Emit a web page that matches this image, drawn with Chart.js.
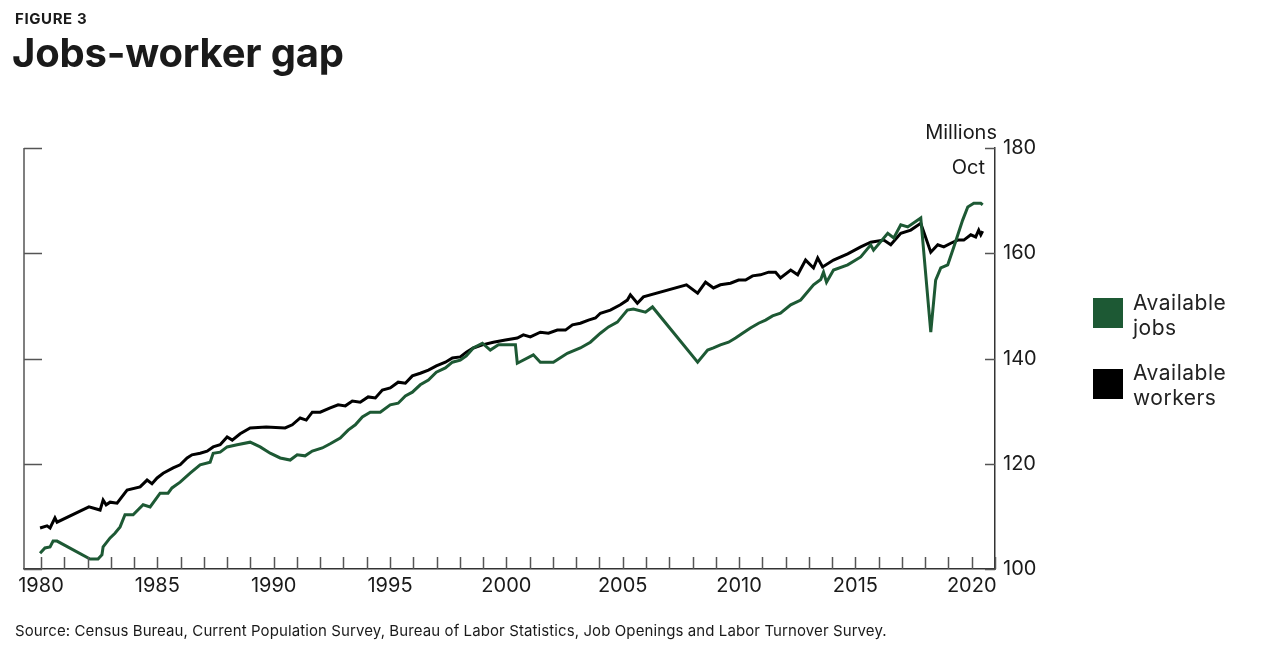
<!DOCTYPE html>
<html>
<head>
<meta charset="utf-8">
<script src="https://cdn.jsdelivr.net/npm/chart.js@4.4.0/dist/chart.umd.min.js"></script>
<style>
  body { margin: 0; width: 1280px; height: 650px; background: #fff; font-family: Inter, "Noto Sans", sans-serif; color: #1a1a1a; position: relative; overflow: hidden; }
  #wrap { position: absolute; left: 0; top: 0; width: 1280px; height: 650px; }
  .txt { position: absolute; white-space: nowrap; }
  #fig { left: 15px; top: 9px; font-weight: 700; font-size: 15px; letter-spacing: 0.6px; }
  #title { left: 12px; top: 28px; font-weight: 700; font-size: 40px; letter-spacing: -0.2px; }
  #units { right: 283px; top: 120px; font-size: 20px; }
  #oct { right: 295px; top: 155px; font-size: 20px; }
  #source { left: 15px; top: 621px; font-size: 15px; letter-spacing: 0.1px; }
  .key { position: absolute; left: 1093px; width: 30px; height: 30px; }
  .keytxt { position: absolute; left: 1133px; font-size: 21px; line-height: 25px; letter-spacing: 0.5px; color: #222; }
</style>
</head>
<body>
<div id="wrap"><canvas id="gapChart"></canvas></div>
<div class="txt" id="fig">FIGURE 3</div>
<div class="txt" id="title">Jobs-worker gap</div>
<div class="txt" id="units">Millions</div>
<div class="txt" id="oct">Oct</div>
<div class="key" style="top:298px; background:#1d5934;"></div>
<div class="keytxt" style="top:290px;">Available<br>jobs</div>
<div class="key" style="top:369px; background:#000;"></div>
<div class="keytxt" style="top:360px;">Available<br>workers</div>
<div class="txt" id="source">Source: Census Bureau, Current Population Survey, Bureau of Labor Statistics, Job Openings and Labor Turnover Survey.</div>
<script>
// Available jobs (millions), position on the time axis as drawn
const jobsYears = [1979.96, 1980.17, 1980.39, 1980.52, 1980.69, 1982.11, 1982.45, 1982.62, 1982.67, 1982.97,
  1983.18, 1983.40, 1983.61, 1983.96, 1984.39, 1984.69, 1985.12, 1985.46, 1985.63, 1985.98,
  1986.41, 1986.84, 1987.27, 1987.40, 1987.70, 1988.00, 1988.43, 1988.99, 1989.42, 1989.85,
  1990.28, 1990.71, 1991.01, 1991.35, 1991.66, 1992.09, 1992.43, 1992.86, 1993.20, 1993.51,
  1993.81, 1994.15, 1994.58, 1995.01, 1995.35, 1995.66, 1995.96, 1996.30, 1996.65, 1996.99,
  1997.38, 1997.68, 1998.02, 1998.28, 1998.58, 1998.97, 1999.31, 1999.66, 2000.39, 2000.47,
  2001.16, 2001.46, 2002.02, 2002.62, 2003.18, 2003.61, 2004.04, 2004.39, 2004.77, 2005.20,
  2005.46, 2005.98, 2006.28, 2008.22, 2008.65, 2008.90, 2009.20, 2009.55, 2009.85, 2010.15,
  2010.49, 2010.84, 2011.14, 2011.44, 2011.78, 2012.22, 2012.65, 2013.20, 2013.51, 2013.63,
  2013.76, 2014.06, 2014.67, 2015.23, 2015.66, 2015.78, 2016.39, 2016.65, 2016.95, 2017.25,
  2017.81, 2018.24, 2018.45, 2018.67, 2018.97, 2019.23, 2019.61, 2019.83, 2020.09, 2020.39, 2020.47];
const jobsValues = [103.0, 104.0, 104.2, 105.3, 105.3, 101.9, 101.9, 102.7, 104.2, 105.9,
  106.8, 108.0, 110.3, 110.3, 112.2, 111.8, 114.4, 114.4, 115.4, 116.5,
  118.2, 119.8, 120.3, 122.0, 122.2, 123.2, 123.6, 124.1, 123.2, 122.0,
  121.1, 120.7, 121.7, 121.5, 122.4, 123.0, 123.8, 124.9, 126.4, 127.4,
  128.9, 129.8, 129.8, 131.2, 131.5, 132.9, 133.6, 135.0, 135.9, 137.4,
  138.2, 139.3, 139.7, 140.5, 142.0, 142.9, 141.6, 142.6, 142.6, 139.1,
  140.7, 139.3, 139.3, 141.0, 142.0, 143.1, 144.8, 146.0, 146.9, 149.2,
  149.4, 148.8, 149.8, 139.3, 141.6, 142.0, 142.6, 143.1, 143.9, 144.8,
  145.8, 146.7, 147.3, 148.1, 148.6, 150.2, 151.1, 154.0, 155.0, 156.4,
  154.5, 156.8, 157.8, 159.3, 161.6, 160.6, 163.8, 162.9, 165.4, 165.0,
  166.7, 145.0, 154.9, 157.2, 157.8, 161.2, 166.3, 168.8, 169.5, 169.5, 169.2];

// Available workers (millions)
const workersYears = [1979.96, 1980.26, 1980.39, 1980.60, 1980.69, 1982.06, 1982.54, 1982.67, 1982.80, 1982.97,
  1983.27, 1983.70, 1984.26, 1984.56, 1984.77, 1984.99, 1985.25, 1985.68, 1985.98, 1986.28,
  1986.49, 1986.84, 1987.14, 1987.40, 1987.70, 1988.00, 1988.22, 1988.56, 1988.99, 1989.68,
  1990.49, 1990.80, 1991.14, 1991.40, 1991.66, 1992.00, 1992.43, 1992.77, 1993.08, 1993.38,
  1993.72, 1994.06, 1994.37, 1994.67, 1995.01, 1995.35, 1995.66, 1995.96, 1996.30, 1996.65,
  1996.99, 1997.38, 1997.68, 1998.02, 1998.28, 1998.58, 1998.97, 1999.44, 1999.96, 2000.47,
  2000.73, 2001.03, 2001.46, 2001.81, 2002.19, 2002.54, 2002.84, 2003.18, 2003.53, 2003.83,
  2004.04, 2004.47, 2004.90, 2005.20, 2005.33, 2005.63, 2005.89, 2007.74, 2008.22, 2008.56,
  2008.90, 2009.20, 2009.63, 2009.98, 2010.28, 2010.58, 2010.92, 2011.27, 2011.57, 2011.78,
  2012.22, 2012.52, 2012.86, 2013.20, 2013.38, 2013.59, 2014.06, 2014.67, 2015.23, 2015.66,
  2016.22, 2016.52, 2016.95, 2017.38, 2017.81, 2018.24, 2018.54, 2018.80, 2019.10, 2019.40,
  2019.66, 2019.96, 2020.17, 2020.30, 2020.39, 2020.47];
const workersValues = [107.8, 108.2, 107.8, 109.7, 108.9, 111.8, 111.2, 113.1, 112.2, 112.7,
  112.5, 115.0, 115.6, 116.9, 116.2, 117.3, 118.2, 119.2, 119.8, 121.1,
  121.7, 122.0, 122.4, 123.2, 123.6, 125.1, 124.5, 125.7, 126.8, 127.0,
  126.8, 127.4, 128.7, 128.3, 129.8, 129.8, 130.6, 131.2, 131.0, 131.9,
  131.7, 132.7, 132.5, 134.0, 134.4, 135.5, 135.3, 136.7, 137.2, 137.8,
  138.6, 139.3, 140.1, 140.3, 141.2, 142.0, 142.6, 143.1, 143.5, 143.9,
  144.5, 144.1, 145.0, 144.8, 145.4, 145.4, 146.4, 146.7, 147.3, 147.7,
  148.6, 149.2, 150.2, 151.1, 152.1, 150.5, 151.7, 154.0, 152.4, 154.5,
  153.4, 154.0, 154.3, 154.9, 154.9, 155.7, 155.9, 156.4, 156.4, 155.3,
  156.8, 155.9, 158.7, 157.2, 159.1, 157.4, 158.7, 159.9, 161.2, 162.1,
  162.5, 161.6, 163.8, 164.4, 165.7, 160.2, 161.6, 161.2, 161.9, 162.5,
  162.5, 163.5, 163.1, 164.4, 163.5, 164.2];

const yTicks = [100, 120, 140, 160, 180];
const yearLabelStep = 5;

const jobsColor = '#1d5934';
const workersColor = '#000000';

// short tick marks drawn inward, plus the left frame line
const axisMarks = {
    id: 'axisMarks',
    afterDraw(chart) {
        const { ctx, chartArea, scales } = chart;
        ctx.save();
        ctx.strokeStyle = '#555';
        ctx.lineWidth = 1.5;
        ctx.beginPath();
        ctx.moveTo(chartArea.left, chartArea.top);
        ctx.lineTo(chartArea.left, chartArea.bottom);
        scales.x.ticks.forEach(t => {
            if (!Number.isInteger(t.value)) return;
            const px = Math.round(scales.x.getPixelForValue(t.value)) + 0.5;
            ctx.moveTo(px, chartArea.bottom);
            ctx.lineTo(px, chartArea.bottom - 12);
        });
        scales.y.ticks.forEach(t => {
            const py = Math.round(scales.y.getPixelForValue(t.value)) + 0.5;
            ctx.moveTo(chartArea.left, py);
            ctx.lineTo(chartArea.left + 18, py);
            ctx.moveTo(chartArea.right, py);
            ctx.lineTo(chartArea.right - 10, py);
        });
        ctx.stroke();
        ctx.restore();
    }
};

new Chart('gapChart', {
    type: 'line',
    data: {
        datasets: [{
            label: 'Available jobs',
            data: jobsYears.map((x, i) => ({ x: x, y: jobsValues[i] })),
            borderColor: jobsColor,
            borderWidth: 3,
            pointRadius: 0,
            tension: 0
        }, {
            label: 'Available workers',
            data: workersYears.map((x, i) => ({ x: x, y: workersValues[i] })),
            borderColor: workersColor,
            borderWidth: 3,
            pointRadius: 0,
            tension: 0
        }]
    },
    options: {
        responsive: true,
        maintainAspectRatio: false,
        animation: false,
        layout: { padding: { top: 148, left: 24, right: 235, bottom: 51 } },
        plugins: { legend: { display: false }, tooltip: { enabled: false } },
        scales: {
            x: {
                type: 'linear',
                min: 1979.27,
                max: 2021,
                afterFit: s => { s.height = 30; },
                grid: { display: false, drawTicks: false },
                border: { display: true, color: '#333', width: 1.5 },
                ticks: {
                    stepSize: 1,
                    autoSkip: false,
                    includeBounds: false,
                    maxRotation: 0,
                    padding: 5,
                    color: '#1a1a1a',
                    font: { family: 'Inter', size: 20 },
                    callback: v => (v % yearLabelStep === 0 ? String(v) : '')
                }
            },
            y: {
                position: 'right',
                min: yTicks[0],
                max: yTicks[yTicks.length - 1],
                afterFit: s => { s.width = 50; },
                afterBuildTicks: s => { s.ticks = yTicks.map(v => ({ value: v })); },
                grid: { display: false, drawTicks: false },
                border: { display: true, color: '#333', width: 1.5 },
                ticks: {
                    padding: 8,
                    color: '#1a1a1a',
                    font: { family: 'Inter', size: 20 }
                }
            }
        }
    },
    plugins: [axisMarks]
});
</script>
</body>
</html>
